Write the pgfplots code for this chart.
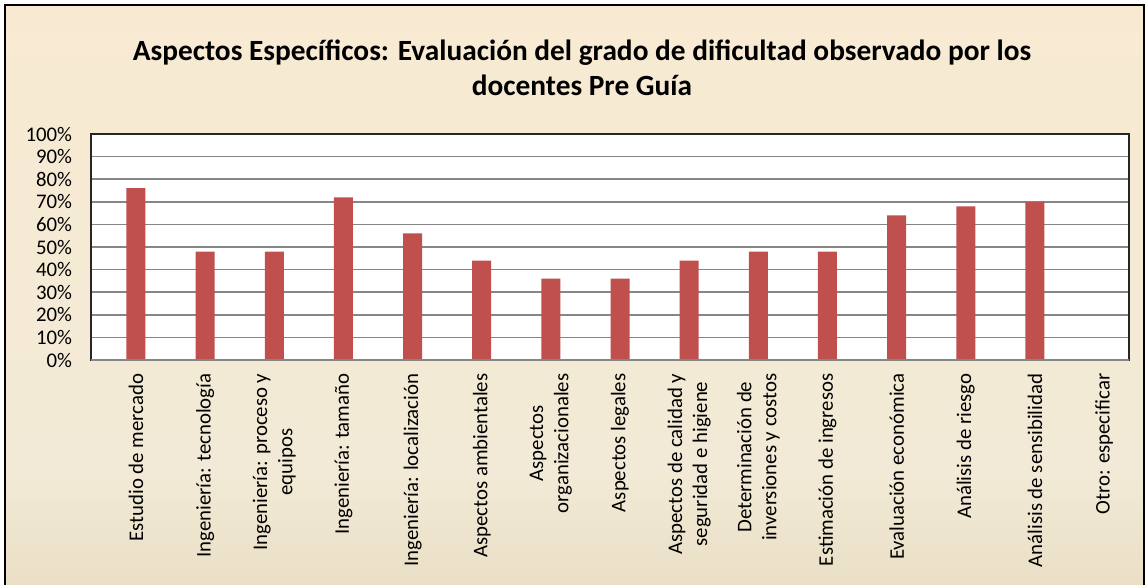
\documentclass[border=0pt]{standalone}
\usepackage{fontspec}
\setmainfont{Carlito}
\usepackage{pgfplots}
\pgfplotsset{compat=1.18}
\definecolor{barred}{HTML}{C0504D}
\definecolor{gridgray}{HTML}{868686}
\definecolor{btop}{HTML}{FCEAD0}
\definecolor{bmid}{HTML}{F2EAD6}
\definecolor{bbot}{HTML}{D5C39C}
\pgfdeclareverticalshading{parchment}{100bp}{color(0bp)=(bbot); color(35bp)=(bmid); color(100bp)=(btop)}

\begin{document}
\begin{tikzpicture}[x=0.75pt, y=0.75pt]
\path[use as bounding box] (0,0) rectangle (1147,585);
\begin{scope}
\clip (0,0) rectangle (1147,585);
\shade[shading=parchment] (5,-5) rectangle (1144,580);
\draw[black, line width=1.5pt] (5,-10) -- (5,580) -- (1144,580) -- (1144,-10);
\end{scope}

% title
\node[font=\fontsize{22}{26}\selectfont\bfseries, align=center] at (582,517)
  {Aspectos Específicos: Evaluación del grado de dificultad observado por los\\docentes Pre Guía};

\begin{axis}[
  at={(68.25pt,168.75pt)}, anchor=south west,
  scale only axis, width=778.5pt, height=169.5pt,
  ybar, bar width=14.25pt,
  xmin=-0.65, xmax=14.36, ymin=0, ymax=100,
  axis background/.style={fill=white},
  axis line style={draw=black!85, line width=1.1pt},
  ytick={0,10,...,100},
  yticklabel={\pgfmathprintnumber{\tick}\%},
  ymajorgrids, grid style={gridgray, line width=1.1pt},
  major tick length=0pt,
  xtick={0,...,14},
  xticklabels={
    Estudio de mercado,
    Ingeniería: tecnología,
    {Ingeniería: proceso y\\equipos},
    Ingeniería: tamaño,
    Ingeniería: localización,
    Aspectos ambientales,
    {Aspectos\\organizacionales},
    Aspectos legales,
    {Aspectos de calidad y\\seguridad e higiene},
    {Determinación de\\inversiones y costos},
    Estimación de ingresos,
    Evaluación económica,
    Análisis de riesgo,
    Análisis de sensibilidad,
    Otro: especificar},
  tick label style={font=\fontsize{15.6}{18.8}\selectfont, /pgf/number format/assume math mode=true},
  xticklabel style={rotate=90, anchor=east, align=center, inner sep=0pt, xshift=-10pt},
  yticklabel style={inner sep=0pt, xshift=-14pt},
  clip=false,
]
\addplot[fill=barred, draw=none] coordinates {
  (0,76) (1,48) (2,48) (3,72) (4,56) (5,44) (6,36) (7,36)
  (8,44) (9,48) (10,48) (11,64) (12,68) (13,70) (14,0)};
\draw[gridgray, line width=1.5pt] (axis cs:-0.65,0) -- (axis cs:14.36,0);
\end{axis}
\end{tikzpicture}
\end{document}
